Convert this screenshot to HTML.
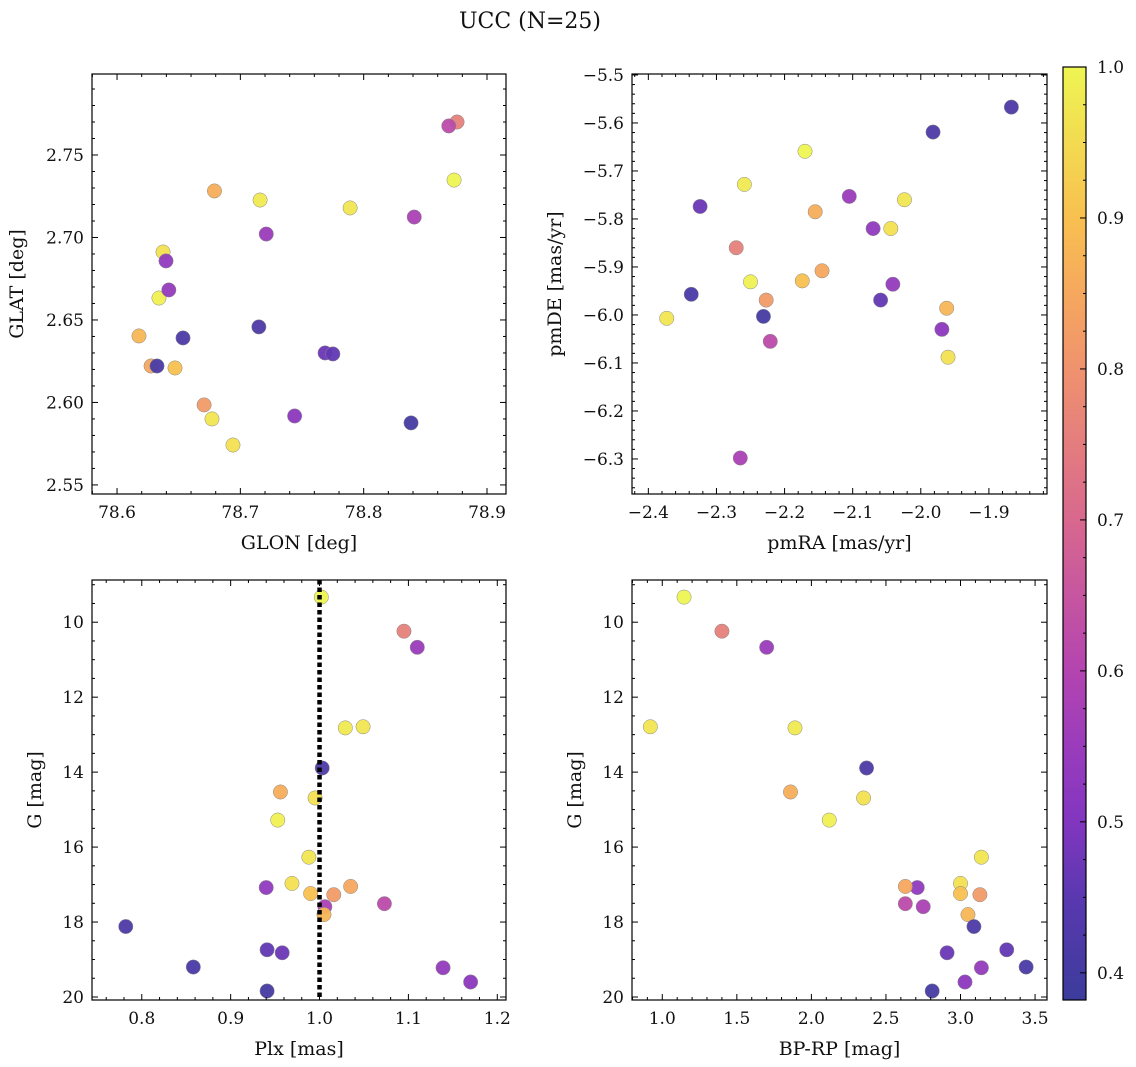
<!DOCTYPE html>
<html><head><meta charset="utf-8">
<style>
html,body{margin:0;padding:0;background:#fff;}
svg{display:block;font-family:"DejaVu Serif","Liberation Serif",serif;}
</style></head>
<body>
<svg id="fig" width="1136" height="1067" viewBox="0 0 1136 1067">
<text x="530" y="28" text-anchor="middle" font-size="22" fill="#111">UCC (N=25)</text>
</svg>
<script>
// ---- data (25 stars) ----
const prob  = [1.0,0.76,0.55,0.98,0.97,0.42,0.86,0.96,0.99,0.97,0.96,0.53,0.85,0.9,0.82,0.62,0.58,0.88,0.42,0.47,0.46,0.41,0.54,0.52,0.40];
const gmag  = [9.33,10.24,10.67,12.82,12.79,13.89,14.53,14.69,15.28,16.27,16.97,17.08,17.05,17.24,17.27,17.51,17.59,17.80,18.12,18.82,18.74,19.20,19.22,19.60,19.84];
const plx   = [1.002,1.095,1.110,1.029,1.049,1.003,0.956,0.995,0.953,0.988,0.969,0.940,1.035,0.990,1.016,1.073,1.006,1.005,0.782,0.958,0.941,0.858,1.139,1.170,0.941];
const bprp  = [1.146,1.40,1.70,1.89,0.92,2.37,1.86,2.35,2.12,3.14,3.0,2.71,2.63,3.0,3.13,2.63,2.75,3.05,3.09,2.91,3.31,3.44,3.14,3.03,2.81];
const glon  = [78.8733,78.8757,78.721,78.716,78.789,78.715,78.679,78.6373,78.634,78.677,78.694,78.6397,78.6276,78.647,78.6706,78.869,78.841,78.6178,78.6535,78.7687,78.775,78.6324,78.642,78.744,78.8384];
const glat  = [2.7348,2.7700,2.7021,2.7227,2.7179,2.6458,2.7282,2.6912,2.6633,2.5900,2.5742,2.6858,2.6221,2.6209,2.5985,2.7676,2.7124,2.6403,2.6391,2.6300,2.6294,2.6221,2.6682,2.5918,2.5876];
const pmra  = [-2.170,-2.271,-2.105,-2.259,-2.024,-1.867,-2.155,-2.044,-2.250,-2.373,-1.960,-2.070,-2.145,-2.174,-2.227,-2.221,-2.265,-1.962,-1.982,-2.324,-2.059,-2.337,-2.041,-1.969,-2.231];
const pmde  = [-5.659,-5.860,-5.753,-5.728,-5.760,-5.567,-5.785,-5.820,-5.931,-6.007,-6.088,-5.820,-5.908,-5.929,-5.969,-6.055,-6.298,-5.986,-5.619,-5.774,-5.969,-5.957,-5.936,-6.030,-6.003];
const cbarTicks = [0.4,0.5,0.6,0.7,0.8,0.9,1.0];

const NS="http://www.w3.org/2000/svg";
const fig=document.getElementById('fig');
function mk(tag,attrs,parent){const e=document.createElementNS(NS,tag);for(const k in attrs)e.setAttribute(k,attrs[k]);(parent||fig).appendChild(e);return e;}

const stops=[[0.38,[60,60,156]],[0.45,[90,56,176]],[0.5,[130,54,192]],[0.55,[154,60,188]],[0.6,[180,68,176]],[0.7,[216,104,142]],[0.8,[240,146,110]],[0.85,[246,168,94]],[0.9,[248,192,80]],[1.0,[238,245,82]]];
function cmap(v){if(v<=stops[0][0])return 'rgb('+stops[0][1]+')';for(let i=1;i<stops.length;i++){if(v<=stops[i][0]){const a=stops[i-1],b=stops[i],t=(v-a[0])/(b[0]-a[0]);return 'rgb('+a[1].map((c,j)=>Math.round(c+(b[1][j]-c)*t)).join(',')+')';}}return 'rgb('+stops[stops.length-1][1]+')';}

function fmt(v,d){const s=Math.abs(v).toFixed(d);return (v<-1e-9?'−':'')+s;}

function panel(p){
  const g=mk('g',{});
  
  
  const sx=v=>p.x0+(v-p.xd[0])/(p.xd[1]-p.xd[0])*(p.x1-p.x0);
  const sy=v=>p.y1-(v-p.yd[0])/(p.yd[1]-p.yd[0])*(p.y1-p.y0);
  const syI=v=>p.y0+(v-p.yd[0])/(p.yd[1]-p.yd[0])*(p.y1-p.y0);
  const Y=p.inv?syI:sy;
  const pts=mk('g',{},g);
  
  
  const xs=p.xv, ys=p.yv;
  prob.forEach((pv,i)=>{
    const c=mk('circle',{cx:sx(xs[i]),cy:Y(ys[i]),r:7.2,fill:cmap(pv),'fill-opacity':0.95,stroke:'#8a8a8a','stroke-width':0.5},pts);
    
    
  });
  if(p.vline!==undefined){
    const l=mk('line',{x1:sx(p.vline),x2:sx(p.vline),y1:p.y0,y2:p.y1,stroke:'#000','stroke-width':4.5,'stroke-dasharray':'4.5 3'},g);
    
    
  }
  const fr=mk('rect',{x:p.x0,y:p.y0,width:p.x1-p.x0,height:p.y1-p.y0,fill:'none',stroke:'#000','stroke-width':1.2},g);
  
  
  const tk=mk('g',{stroke:'#000','stroke-width':1},g);
  const eps=1e-9;
  for(let v=Math.ceil(p.xd[0]/p.xm-eps)*p.xm; v<=p.xd[1]+eps; v+=p.xm){
    const x=sx(v);const maj=p.xt.some(t=>Math.abs(t-v)<p.xm/3);const L=maj?6:3;
    mk('line',{x1:x,x2:x,y1:p.y1,y2:p.y1-L},tk);mk('line',{x1:x,x2:x,y1:p.y0,y2:p.y0+L},tk);
  }
  for(let v=Math.ceil(p.yd[0]/p.ym-eps)*p.ym; v<=p.yd[1]+eps; v+=p.ym){
    const y=Y(v);const maj=p.yt.some(t=>Math.abs(t-v)<p.ym/3);const L=maj?6:3;
    mk('line',{x1:p.x0,x2:p.x0+L,y1:y,y2:y},tk);mk('line',{x1:p.x1,x2:p.x1-L,y1:y,y2:y},tk);
  }
  p.xt.forEach(v=>{const t=mk('text',{x:sx(v),y:p.y1+24,'text-anchor':'middle','font-size':17,fill:'#111'},g);t.textContent=fmt(v,p.xdp);
    
    });
  p.yt.forEach(v=>{const t=mk('text',{x:p.x0-8,y:Y(v)+6,'text-anchor':'end','font-size':17,fill:'#111'},g);t.textContent=fmt(v,p.ydp);
    
    });
  const xl=mk('text',{x:(p.x0+p.x1)/2,y:p.y1+55,'text-anchor':'middle','font-size':19,fill:'#111'},g);xl.textContent=p.xlab;
  
  
  const yl=mk('text',{x:p.ylx,y:(p.y0+p.y1)/2,'text-anchor':'middle','font-size':19,fill:'#111',transform:'rotate(-90 '+p.ylx+' '+((p.y0+p.y1)/2)+')'},g);yl.textContent=p.ylab;
  
  
}

panel({name:'panel-glon-glat',x0:92,x1:506,y0:74,y1:494,xd:[78.5797,78.9154],yd:[2.5445,2.7991],xv:glon,yv:glat,
  xt:[78.6,78.7,78.8,78.9],xm:0.02,xdp:1,yt:[2.55,2.60,2.65,2.70,2.75],ym:0.01,ydp:2,xlab:'GLON [deg]',ylab:'GLAT [deg]',ylx:23});
panel({name:'panel-pm',x0:632,x1:1047,y0:74,y1:494,xd:[-2.424,-1.8147],yd:[-6.373,-5.498],xv:pmra,yv:pmde,
  xt:[-2.4,-2.3,-2.2,-2.1,-2.0,-1.9],xm:0.02,xdp:1,yt:[-6.3,-6.2,-6.1,-6.0,-5.9,-5.8,-5.7,-5.6,-5.5],ym:0.02,ydp:1,xlab:'pmRA [mas/yr]',ylab:'pmDE [mas/yr]',ylx:561});
panel({name:'panel-plx-g',x0:92,x1:506,y0:580,y1:1000,xd:[0.744,1.2098],yd:[8.874,20.08],inv:true,xv:plx,yv:gmag,vline:1.0,
  xt:[0.8,0.9,1.0,1.1,1.2],xm:0.02,xdp:1,yt:[10,12,14,16,18,20],ym:0.5,ydp:0,xlab:'Plx [mas]',ylab:'G [mag]',ylx:41});
panel({name:'panel-cmd',x0:632,x1:1047,y0:580,y1:1000,xd:[0.797,3.58],yd:[8.874,20.08],inv:true,xv:bprp,yv:gmag,
  xt:[1.0,1.5,2.0,2.5,3.0,3.5],xm:0.1,xdp:1,yt:[10,12,14,16,18,20],ym:0.5,ydp:0,xlab:'BP-RP [mag]',ylab:'G [mag]',ylx:581});

(function(){
  const cx0=1063,cx1=1086,cy0=67,cy1=1000,vmin=0.382,vmax=1.0;
  const cy=v=>cy1-(v-vmin)/(vmax-vmin)*(cy1-cy0);
  const g=mk('g',{});
  
  
  const defs=mk('defs',{},g);
  const lg=mk('linearGradient',{id:'cg',x1:0,y1:1,x2:0,y2:0},defs);
  stops.forEach(s=>{mk('stop',{offset:Math.max(0,(s[0]-vmin)/(vmax-vmin)),'stop-color':'rgb('+s[1]+')'},lg);});
  mk('rect',{x:cx0,y:cy0,width:cx1-cx0,height:cy1-cy0,fill:'url(#cg)',stroke:'#000','stroke-width':1.2},g);
  for(let v=0.4;v<=1.0001;v+=0.025){const y=cy(v);const maj=cbarTicks.some(t=>Math.abs(t-v)<0.005);mk('line',{x1:cx1,x2:cx1-(maj?6:3),y1:y,y2:y,stroke:'#000','stroke-width':1},g);}
  cbarTicks.forEach(v=>{const t=mk('text',{x:cx1+11,y:cy(v)+6,'font-size':17,fill:'#111'},g);t.textContent=v.toFixed(1);
    
    });
})();
</script>
</body></html>
